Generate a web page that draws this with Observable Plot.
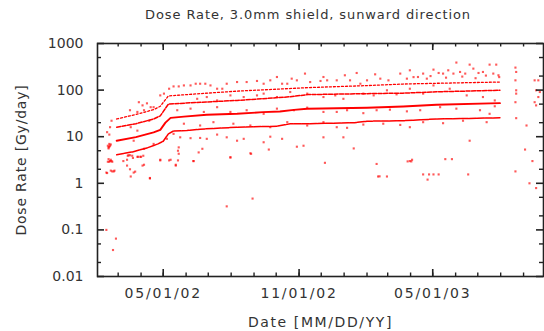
<!DOCTYPE html>
<html><head><meta charset="utf-8">
<script src="https://cdn.jsdelivr.net/npm/d3@7"></script>
<script src="https://cdn.jsdelivr.net/npm/@observablehq/plot@0.6"></script>
<style>
body{margin:0;background:#fff;font-family:"DejaVu Sans",sans-serif;}
#wrap{position:relative;width:544px;height:331px;overflow:hidden;}
#title{position:absolute;top:7px;left:308px;transform:translateX(-50%);white-space:nowrap;font-size:13px;color:#333;letter-spacing:0.9px;}
g[aria-label="x-axis tick label"] text{letter-spacing:1.8px;}
g[aria-label="x-axis label"] text{letter-spacing:1.6px;}
g[aria-label="y-axis label"] text{letter-spacing:0.8px;}
</style></head><body>
<div id="wrap"><div id="chart"></div><div id="title">Dose Rate, 3.0mm shield, sunward direction</div></div>
<script>
const titleText = "Dose Rate, 3.0mm shield, sunward direction";
const xLabel = "Date [MM/DD/YY]";
const yLabel = "Dose Rate [Gy/day]";
const xDomain = ["2002-02-01", "2003-09-28"];
const yDomain = [0.01, 1000];
const xTicks = ["2002-05-01", "2002-11-01", "2003-05-01"];
const xTickLabels = ["05/01/02", "11/01/02", "05/01/03"];
const yTicks = [0.01, 0.1, 1, 10, 100, 1000];
const yTickLabels = ["0.01", "0.1", "1", "10", "100", "1000"];
const yMinorTicks = [0.02, 0.05, 0.2, 0.5, 2, 5, 20, 50, 200, 500];

// Dense bands (channels) [date, Gy/day]
const band1 = [["2002-02-27",4.1],["2002-03-20",4.7],["2002-04-10",5.8],["2002-04-24",7.0],["2002-05-01",8.0],["2002-05-08",11.5],["2002-05-15",13.3],["2002-06-02",13.6],["2002-06-20",14.5],["2002-08-09",16],["2002-10-02",16.8],["2002-10-20",18.9],["2002-11-16",19],["2003-01-15",20],["2003-02-01",21.5],["2003-03-22",22],["2003-05-06",24],["2003-07-31",25.4]];
const band2 = [["2002-02-27",8.2],["2002-03-25",9.8],["2002-04-18",12.4],["2002-04-27",14],["2002-05-04",20],["2002-05-11",25.4],["2002-05-29",27],["2002-06-29",29.5],["2002-08-09",31],["2002-09-13",33.6],["2002-10-06",34.8],["2002-10-25",37.7],["2002-11-12",39.7],["2003-02-01",41.7],["2003-03-22",44.6],["2003-05-06",48.4],["2003-07-31",52.5]];
const band3 = [["2002-02-27",16],["2002-03-25",19],["2002-04-18",24],["2002-04-27",28],["2002-05-08",50],["2002-06-07",53.5],["2002-08-09",60],["2002-10-20",72],["2002-11-13",80],["2003-02-01",84],["2003-03-22",86],["2003-05-06",92],["2003-07-31",99]];
const band4 = [["2002-02-27",24],["2002-03-25",30],["2002-04-18",38],["2002-04-27",45],["2002-05-08",75],["2002-06-20",84],["2002-08-09",95],["2002-11-13",113],["2003-02-01",125],["2003-03-22",135],["2003-05-06",140],["2003-07-31",149]];

// Scattered individual readings [date, Gy/day]
const scatter = [
["2002-02-13",0.1],["2002-02-26",0.065],["2002-02-22",0.037],["2002-02-13",1.7],["2002-02-14",1.66],["2002-02-19",1.87],["2002-02-24",1.87],
["2002-02-15",6.4],["2002-02-16",5.6],["2002-02-17",7.0],["2002-02-18",6.4],["2002-02-19",6.8],["2002-02-16",5.9],["2002-02-17",6.1],
["2002-02-16",3.3],["2002-02-18",3.0],["2002-02-20",3.0],["2002-02-19",3.2],["2002-02-17",2.9],["2002-02-21",2.9],["2002-02-15",2.9],
["2002-02-17",11.1],["2002-02-18",16],["2002-02-20",22],["2002-02-14",12.5],["2002-02-21",1.8],["2002-02-23",1.8],
["2002-03-17",2.0],["2002-03-18",1.4],["2002-03-22",1.7],["2002-03-24",1.78],["2002-04-13",1.27],
["2002-03-14",3.9],["2002-03-20",3.9],["2002-03-27",3.7],["2002-03-31",3.7],["2002-04-05",2.5],["2002-04-13",1.3],
["2002-03-08",3.0],["2002-03-13",3.2],["2002-03-13",2.4],["2002-03-15",4.0],["2002-03-17",4.0],["2002-03-21",3.5],["2002-03-28",3.7],["2002-04-01",3.7],["2002-04-03",2.4],["2002-04-04",3.9],
["2002-03-17",37],["2002-03-27",34],["2002-03-29",55],["2002-04-03",47],["2002-04-05",37],["2002-04-14",43],["2002-04-18",43],["2002-04-09",52],
["2002-03-18",16],["2002-03-27",13.5],["2002-04-12",22],["2002-03-22",8.2],["2002-04-05",5.5],["2002-04-18",7.0],
["2002-04-27",3.1],["2002-05-09",3.1],["2002-05-21",3.1],["2002-05-18",2.4],["2002-05-22",4.3],["2002-06-11",3.0],["2002-06-18",4.6],["2002-07-31",3.6],["2002-08-28",4.3],
["2002-04-27",77],["2002-05-02",84],["2002-05-09",107],["2002-05-15",120],["2002-05-22",120],["2002-05-29",126],["2002-06-07",126],["2002-06-14",137],["2002-06-20",137],["2002-06-27",137],
["2002-07-04",126],["2002-07-13",107],["2002-07-20",107],["2002-07-26",137],["2002-08-09",149],["2002-08-22",149],["2002-09-05",157],["2002-09-14",137],["2002-09-23",162],
["2002-10-02",191],["2002-10-09",137],["2002-10-16",137],["2002-10-22",176],["2002-10-29",162],["2002-11-09",226],["2002-11-16",149],["2002-11-30",157],["2002-12-04",191],
["2002-12-09",162],["2002-12-22",162],["2003-01-02",208],["2003-01-09",162],["2003-01-18",233],["2003-01-23",137],["2003-02-01",162],["2003-02-12",218],["2003-02-19",176],
["2003-03-02",162],["2003-03-18",226],["2003-03-27",176],["2003-03-31",266],["2003-04-11",191],["2003-04-18",226],["2003-04-23",176],["2003-05-02",275],["2003-05-09",233],
["2003-05-15",226],["2003-05-22",266],["2003-05-29",226],["2003-06-02",390],["2003-06-07",245],["2003-06-14",226],["2003-06-20",352],["2003-06-25",289],["2003-07-02",233],
["2003-07-08",245],["2003-07-17",352],["2003-07-22",226],["2003-07-26",352],["2003-07-29",208],
["2003-04-05",190],["2003-04-28",200],["2003-05-19",185],["2003-06-10",195],["2003-06-28",180],["2003-07-12",205],["2003-07-30",190],
["2003-08-21",304],["2003-08-22",245],["2003-08-21",162],["2003-08-22",99],["2003-08-22",84],["2003-08-21",55],["2003-08-22",25],["2003-08-21",1.8],
["2003-09-16",162],["2003-09-21",162],["2003-09-18",99],["2003-09-23",91],["2003-09-21",71],["2003-09-16",55],["2003-09-18",47],["2003-09-05",17.4],
["2003-09-03",5.3],["2003-09-13",3.0],["2003-09-09",1.0],["2003-09-18",0.79],
["2002-06-16",65],["2002-06-29",71],["2002-07-13",60],["2002-07-31",77],["2002-08-18",71],["2002-09-05",77],["2002-09-14",84],["2002-10-02",71],["2002-10-20",91],
["2002-11-12",84],["2002-12-04",71],["2002-12-20",77],["2002-12-31",65],["2003-01-27",84],["2003-02-10",77],["2003-02-28",99],["2003-03-13",81],["2003-03-31",107],
["2003-04-18",84],["2003-05-02",126],["2003-05-24",107],["2003-06-16",77],["2003-07-08",71],["2003-07-24",60],["2003-07-24",45],
["2002-05-20",37],["2002-06-07",40],["2002-06-25",34],["2002-07-13",43],["2002-07-31",34],["2002-08-22",37],["2002-09-14",31],["2002-10-02",40],["2002-10-25",37],
["2002-11-12",42],["2002-12-04",34],["2002-12-22",34],["2003-01-05",37],["2003-01-27",32],["2003-02-14",37],["2003-03-04",38],["2003-03-27",35],["2003-04-14",37],
["2003-05-11",43],["2003-06-02",40],["2003-07-04",37],["2003-07-17",31],
["2002-05-29",19],["2002-06-20",17.4],["2002-07-08",20.5],["2002-08-04",19],["2002-08-27",17.4],["2002-09-23",16],["2002-10-16",20.5],["2002-11-12",17.4],["2002-12-04",20.5],
["2002-12-22",16],["2003-01-05",15.5],["2003-01-27",18.2],["2003-02-23",19],["2003-03-18",17.9],["2003-03-31",16],["2003-04-18",20.5],["2003-05-15",19.5],["2003-06-11",22],["2003-07-13",20.5],
["2002-05-06",9.0],["2002-05-15",11.5],["2002-05-24",9.7],["2002-06-07",9.3],["2002-06-20",9.4],["2002-06-29",9.0],["2002-07-13",11.1],["2002-07-26",9.7],["2002-08-09",8.2],
["2002-08-18",9.0],["2002-09-14",7.6],["2002-09-23",10],["2002-10-09",9.0],["2002-10-29",6.1],["2002-11-07",6.4],["2002-12-04",9.7],["2002-12-31",9.7],
["2002-04-27",3.2],["2002-05-11",3.2],["2002-05-18",2.5],["2002-05-22",5.9],["2002-05-21",5.0],["2002-06-11",3.0],["2002-06-23",5.5],["2002-07-31",3.6],["2002-08-27",4.4],
["2002-09-21",5.3],["2002-12-06",2.75],["2003-01-14",5.6],["2003-02-14",2.6],["2003-02-16",1.4],["2003-02-28",1.4],["2003-03-31",3.0],["2003-04-03",3.2],
["2003-04-18",1.55],["2003-04-24",1.2],["2003-04-26",1.55],["2003-05-02",1.55],["2003-05-09",1.55],["2003-05-18",3.3],["2003-06-18",1.55],["2003-06-20",8.2],
["2002-07-26",0.32],["2002-08-30",0.47],["2003-02-18",1.41],["2003-03-28",2.95],["2003-04-02",2.95],["2003-05-27",3.3]
];

const W = 544, H = 331, ML = 97, MR = 1, MT = 43, MB = 55;
const FW = W - ML - MR, FH = H - MT - MB;
const toRows = a => a.map(([d, v]) => ({date: new Date(d), value: v}));
const xs = xTicks.map(d => new Date(d));
const minorX = d3.utcMonth.range(new Date("2002-02-01"), new Date("2003-09-28")).filter(d => d > new Date("2002-02-01"));
const ink = "#222";
const yFmt = d => yTickLabels[yTicks.findIndex(t => Math.abs(t - d) < t * 1e-6)] ?? String(d);
const xFmt = d => xTickLabels[xs.findIndex(t => +t === +d)] ?? "";
const tk = (len, w) => ({stroke: ink, strokeWidth: w, len});

const chart = Plot.plot({
  width: W, height: H,
  marginLeft: ML, marginRight: MR, marginTop: MT, marginBottom: MB,
  style: {fontFamily: "DejaVu Sans", fontSize: "14px", color: "#333", background: "#fff"},
  x: {type: "utc", domain: xDomain.map(d => new Date(d))},
  y: {type: "log", domain: yDomain},
  marks: [
    Plot.dot(toRows(scatter), {x: "date", y: "value", r: 1.2, symbol: "square", fill: "#ff0000", fillOpacity: 0.65}),
    Plot.line(toRows(band1), {x: "date", y: "value", stroke: "#ff0000", strokeWidth: 1.5, strokeDasharray: "7,1"}),
    Plot.line(toRows(band2), {x: "date", y: "value", stroke: "#ff0000", strokeWidth: 1.9}),
    Plot.line(toRows(band3), {x: "date", y: "value", stroke: "#ff0000", strokeWidth: 1.5, strokeDasharray: "4,1.5"}),
    Plot.line(toRows(band4), {x: "date", y: "value", stroke: "#ff0000", strokeWidth: 1.3, strokeDasharray: "2,2"}),
    // inward ticks on all four sides
    Plot.tickY(yTicks, {y: d => d, insetRight: FW - 7, stroke: ink, strokeWidth: 1.6}),
    Plot.tickY(yMinorTicks, {y: d => d, insetRight: FW - 4, stroke: ink, strokeWidth: 1.4}),
    Plot.tickY(yTicks, {y: d => d, insetLeft: FW - 7, stroke: ink, strokeWidth: 1.6}),
    Plot.tickY(yMinorTicks, {y: d => d, insetLeft: FW - 4, stroke: ink, strokeWidth: 1.4}),
    Plot.tickX(xs, {x: d => d, insetTop: FH - 7, stroke: ink, strokeWidth: 1.6}),
    Plot.tickX(minorX, {x: d => d, insetTop: FH - 3.5, stroke: ink, strokeWidth: 1.4}),
    Plot.tickX(xs, {x: d => d, insetBottom: FH - 7, stroke: ink, strokeWidth: 1.6}),
    Plot.tickX(minorX, {x: d => d, insetBottom: FH - 3.5, stroke: ink, strokeWidth: 1.4}),
    // tick labels and axis titles
    Plot.axisY({anchor: "left", ticks: yTicks, tickSize: 0, tickPadding: 14, tickFormat: yFmt, label: yLabel, labelAnchor: "center", labelOffset: 81, labelArrow: "none", fill: "#333"}),
    Plot.axisX({anchor: "bottom", ticks: xs, tickSize: 0, tickPadding: 12, tickFormat: xFmt, label: xLabel, labelAnchor: "center", labelOffset: 50, labelArrow: "none", fill: "#333"}),
    Plot.frame({stroke: ink, strokeWidth: 1.6})
  ]
});
document.getElementById("chart").appendChild(chart);
</script>
</body></html>
